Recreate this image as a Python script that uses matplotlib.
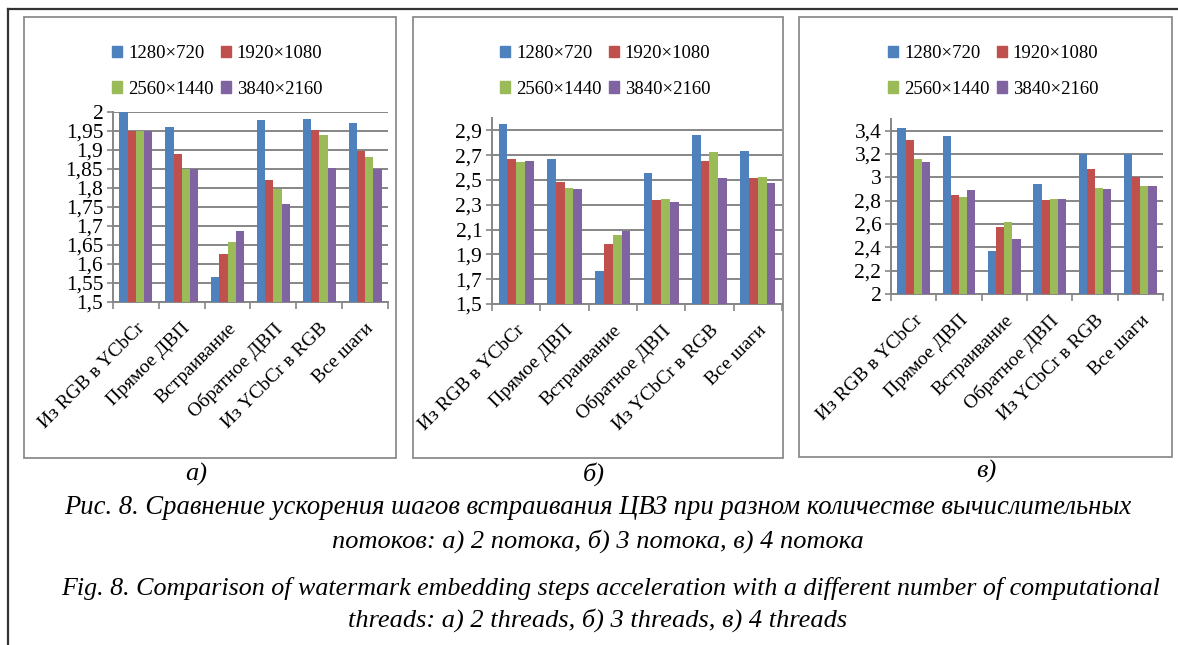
import matplotlib
matplotlib.use('Agg')
import matplotlib.pyplot as plt
import numpy as np
from matplotlib.patches import Rectangle, Patch
from matplotlib.lines import Line2D
from matplotlib.transforms import ScaledTranslation

plt.rcParams['font.family'] = ['Liberation Serif', 'DejaVu Serif']

# данные
categories = ['Из RGB в YCbCr', 'Прямое ДВП', 'Встраивание',
              'Обратное ДВП', 'Из YCbCr в RGB', 'Все шаги']
resolutions = ['1280×720', '1920×1080', '2560×1440', '3840×2160']
colors = ['#4F81BD', '#C0504D', '#9BBB59', '#8064A2']

# а) 2 потока
a_1280 = [2.00, 1.96, 1.567, 1.98, 1.982, 1.972]
a_1920 = [1.95, 1.889, 1.626, 1.822, 1.952, 1.897]
a_2560 = [1.95, 1.85, 1.659, 1.798, 1.939, 1.881]
a_3840 = [1.95, 1.85, 1.687, 1.759, 1.852, 1.85]

# б) 3 потока
b_1280 = [2.954, 2.673, 1.77, 2.556, 2.865, 2.735]
b_1920 = [2.67, 2.487, 1.98, 2.34, 2.65, 2.516]
b_2560 = [2.644, 2.433, 2.057, 2.35, 2.727, 2.524]
b_3840 = [2.652, 2.43, 2.09, 2.32, 2.519, 2.473]

# в) 4 потока
c_1280 = [3.42, 3.351, 2.371, 2.946, 3.203, 3.203]
c_1920 = [3.323, 2.846, 2.574, 2.803, 3.074, 3.00]
c_2560 = [3.16, 2.834, 2.614, 2.817, 2.911, 2.929]
c_3840 = [3.134, 2.891, 2.469, 2.814, 2.903, 2.926]

W, H = 1178, 645
fig = plt.figure(figsize=(W / 100, H / 100), dpi=100)


def box(x0, y0, x1, y1):
    # пиксели (сверху-вниз) -> доли фигуры
    return [x0 / W, 1 - y1 / H, (x1 - x0) / W, (y1 - y0) / H]


def px(x, y):
    return x / W, 1 - y / H


# внешняя рамка
fig.add_artist(Line2D([8 / W, 1], [1 - 9 / H, 1 - 9 / H], color='#333333', lw=1.6))
fig.add_artist(Line2D([8 / W, 8 / W], [1 - 9 / H, 0], color='#333333', lw=1.6))

# рамки панелей
for x0, x1, y1 in [(24, 396, 458), (413, 783, 458), (799, 1172, 457)]:
    r = Rectangle(px(x0, y1), (x1 - x0) / W, (y1 - 17) / H, transform=fig.transFigure,
                  fill=False, edgecolor='#8c8c8c', lw=1.3)
    fig.add_artist(r)

panels = [
    ([a_1280, a_1920, a_2560, a_3840], (113, 112, 388, 302), (1.5, 2.0), np.arange(1.5, 2.001, 0.05), 2, 113),
    ([b_1280, b_1920, b_2560, b_3840], (492, 118, 782, 304), (1.5, 3.0), np.arange(1.5, 2.91, 0.2), 1, 501),
    ([c_1280, c_1920, c_2560, c_3840], (891, 119, 1163, 294), (2.0, 3.5), np.arange(2.0, 3.41, 0.2), 1, 889),
]

x = np.arange(len(categories))
bw = 0.18
shift = ScaledTranslation(4 / 100, 0, fig.dpi_scale_trans)
for series, (l, t, r, b), ylim, yt, dec, lx in panels:
    ax = fig.add_axes(box(l, t, r, b))
    for i, vals in enumerate(series):
        ax.bar(x + (i - 1.5) * bw, vals, bw, color=colors[i], zorder=3)
    ax.set_xlim(-0.5, len(categories) - 0.5)
    ax.set_ylim(*ylim)
    ax.set_yticks(yt)
    labs = []
    for v in yt:
        s = ('%.*f' % (dec, v)).rstrip('0').rstrip('.')
        labs.append(s.replace('.', ','))
    ax.set_yticklabels(labs, fontsize=15.5)
    ax.yaxis.grid(True, color='#868686', lw=1.4, zorder=0)
    ax.set_xticks(x)
    ax.set_xticklabels(categories, fontsize=14, rotation=45, ha='right',
                       rotation_mode='anchor')
    for lab in ax.get_xticklabels():
        lab.set_transform(lab.get_transform() + shift)
    ax.set_xticks(np.arange(-0.5, len(categories)), minor=True)
    ax.tick_params(axis='x', which='major', length=0, pad=13)
    ax.tick_params(axis='x', which='minor', length=5, color='#868686', width=1.2)
    ax.tick_params(axis='y', length=4, color='#868686', width=1.2, pad=3)
    for s in ['top', 'right']:
        ax.spines[s].set_visible(False)
    for s in ['left', 'bottom']:
        ax.spines[s].set_color('#868686')
        ax.spines[s].set_linewidth(1.4)
    ax.set_facecolor('none')

    # порядок: по строкам, как в исходной легенде
    order = [0, 2, 1, 3]
    handles = [Patch(color=colors[k]) for k in order]
    fig.legend(handles, [resolutions[k] for k in order], loc='upper left',
               bbox_to_anchor=px(lx - 1, 45),
               ncol=2, frameon=False, fontsize=13.5, handlelength=0.55, handleheight=0.55,
               handletextpad=0.3, columnspacing=0.4, labelspacing=1.0, borderpad=0,
               borderaxespad=0)

cap = dict(style='italic', ha='center', va='center', fontsize=19)
for s, (xx, yy) in zip(['а)', 'б)', 'в)'], [(196, 474), (594, 474), (986, 471)]):
    fig.text(*px(xx, yy), s, **cap)

fig.text(*px(598, 508), 'Рис. 8. Сравнение ускорения шагов встраивания ЦВЗ при разном количестве вычислительных',
         **dict(cap, fontsize=19.2))
fig.text(*px(598, 541), 'потоков: а) 2 потока, б) 3 потока, в) 4 потока', **cap)
fig.text(*px(611, 589), 'Fig. 8. Comparison of watermark embedding steps acceleration with a different number of computational',
         **dict(cap, fontsize=18.7))
fig.text(*px(598, 620), 'threads: а) 2 threads, б) 3 threads, в) 4 threads', **cap)

fig.savefig('out.png', dpi=100)
